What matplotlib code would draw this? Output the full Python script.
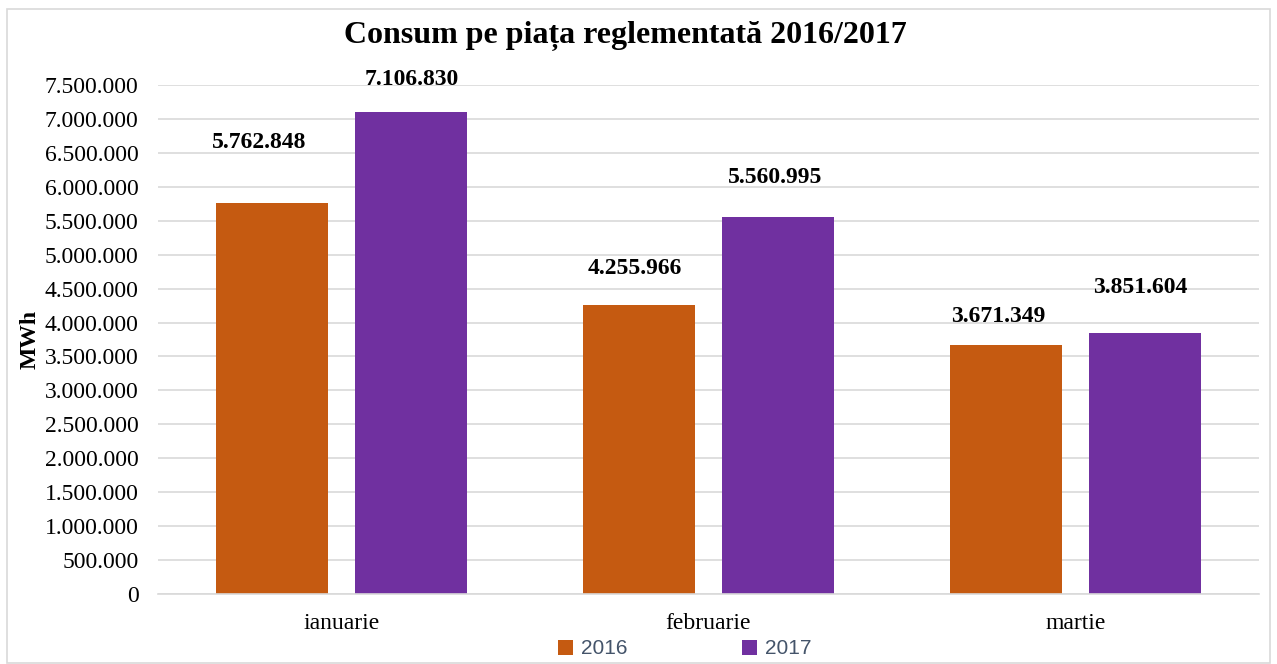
import matplotlib.pyplot as plt
import numpy as np
from matplotlib.patches import Rectangle
from matplotlib.ticker import FuncFormatter

months = ['ianuarie', 'februarie', 'martie']
v2016 = [5762848, 4255966, 3671349]
v2017 = [7106830, 5560995, 3851604]

# label nudges (pixels) as placed by hand in the original chart
dx2016 = [-13, -4, -8]
dy2016 = [60, 37, 28]
dx2017 = [1, -3, -5]
dy2017 = [32, 39, 45]

ORANGE = '#C55A11'
PURPLE = '#7030A0'


def dots(v, pos=None):
    return f'{int(v):,}'.replace(',', '.')


plt.rcParams['font.family'] = ['Liberation Serif', 'DejaVu Serif']

fig = plt.figure(figsize=(12.77, 6.64), dpi=100)
ax = fig.add_axes([158 / 1277, 70 / 664, 1101 / 1277, (594 - 85) / 664])

x = np.arange(len(months))
w = 0.305
off = 0.19
b1 = ax.bar(x - off, v2016, w, color=ORANGE, label='2016', zorder=2)
b2 = ax.bar(x + off, v2017, w, color=PURPLE, label='2017', zorder=2)

for bars, vals, dxs, dys in ((b1, v2016, dx2016, dy2016), (b2, v2017, dx2017, dy2017)):
    for r, v, dx, dy in zip(bars, vals, dxs, dys):
        ax.annotate(dots(v), (r.get_x() + r.get_width() / 2, v),
                    xytext=(dx * 0.72, dy * 0.72), textcoords='offset points',
                    ha='center', va='center', fontsize=17, fontweight='bold')

ax.set_xlim(-0.5, 2.5)
ax.set_ylim(0, 7500000)
ax.set_yticks(np.arange(0, 7500001, 500000))
ax.yaxis.set_major_formatter(FuncFormatter(dots))
ax.set_xticks(x)
ax.set_xticklabels(months)
ax.tick_params(axis='both', length=0, labelsize=17, pad=14)
ax.tick_params(axis='x', pad=14)
ax.grid(axis='y', color='#D9D9D9', linewidth=1.2, zorder=0)
for s in ['top', 'right', 'left']:
    ax.spines[s].set_visible(False)
ax.spines['bottom'].set_color('#D9D9D9')
ax.spines['bottom'].set_linewidth(1.2)

ax.set_ylabel('MWh', fontsize=17, fontweight='bold')
ax.yaxis.set_label_coords(-0.107, 0.5)

fig.text(625 / 1277, 1 - 36 / 664, 'Consum pe piața reglementată 2016/2017',
         ha='center', va='center', fontsize=23, fontweight='bold')

leg = fig.legend(handles=[b1, b2], loc='center', bbox_to_anchor=(685 / 1277, 1 - 649 / 664),
                 ncol=2, frameon=False, prop={'family': 'Liberation Sans', 'size': 15},
                 handlelength=0.7, handleheight=0.7, columnspacing=5.5, handletextpad=0.4)
for t in leg.get_texts():
    t.set_color('#44546A')

fig.patches.append(Rectangle((7 / 1277, 1 / 664), 1263 / 1277, 654 / 664,
                             transform=fig.transFigure, fill=False,
                             edgecolor='#D9D9D9', linewidth=1.2))

fig.savefig('out.png', dpi=100)
